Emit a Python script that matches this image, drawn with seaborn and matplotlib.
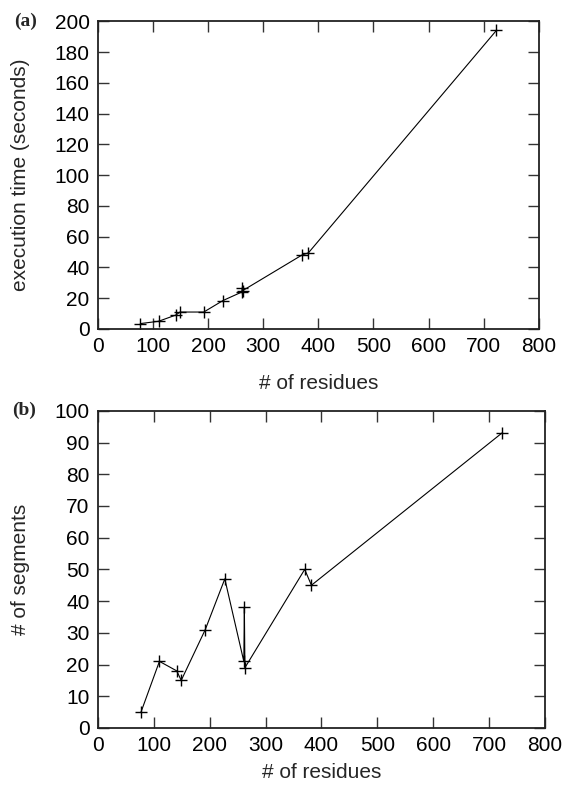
import numpy as np
import pandas as pd
import seaborn as sns
import matplotlib.pyplot as plt

# values
residues = [77, 110, 141, 149, 192, 227, 261, 262, 263, 370, 382, 723]
exec_time = [3.5, 5, 9, 11, 11, 18.5, 24, 26.5, 25, 48, 49.5, 194]
segments = [5, 21, 18, 15, 31, 47, 21, 38, 19, 50, 45, 93]

x_ticks = [0, 100, 200, 300, 400, 500, 600, 700, 800]
time_ticks = [0, 20, 40, 60, 80, 100, 120, 140, 160, 180, 200]
seg_ticks = [0, 10, 20, 30, 40, 50, 60, 70, 80, 90, 100]

df = pd.DataFrame({'residues': residues, 'time': exec_time, 'segments': segments})

sns.set_theme(style="ticks")
plt.rcParams['font.family'] = ['Liberation Sans', 'DejaVu Sans']
plt.rcParams['font.size'] = 15

fig = plt.figure(figsize=(5.63, 7.87), dpi=100)
ax1 = fig.add_axes([0.174, 0.582, 0.783, 0.391])
ax2 = fig.add_axes([0.174, 0.075, 0.794, 0.403])


def style(ax, yticks, ylabel, xlab_y, ylab_x, tag):
    ax.set_xlim(0, 800)
    ax.set_ylim(yticks[0], yticks[-1])
    ax.set_xticks(x_ticks)
    ax.set_yticks(yticks)
    ax.tick_params(direction='in', length=8, width=1, color='#333333',
                   top=True, right=True, labelsize=15, pad=6,
                   labelcolor='black')
    for s in ax.spines.values():
        s.set_linewidth(1.3)
        s.set_color('#222222')
    ax.set_xlabel('# of residues', fontsize=15)
    ax.set_ylabel(ylabel, fontsize=15)
    ax.xaxis.set_label_coords(0.5, xlab_y)
    ax.yaxis.set_label_coords(ylab_x, 0.5)
    ax.text(-0.165, 1.0, tag, transform=ax.transAxes, fontsize=14,
            fontweight='bold', family='Liberation Serif', va='center',
            ha='center')


sns.lineplot(data=df, x='residues', y='time', ax=ax1, estimator=None,
             sort=False, color='black', lw=0.8, marker='+', ms=9, mew=1,
             mec='black')
style(ax1, time_ticks, 'execution time (seconds)', -0.145, -0.155, '(a)')

sns.lineplot(data=df, x='residues', y='segments', ax=ax2, estimator=None,
             sort=False, color='black', lw=0.8, marker='+', ms=9, mew=1,
             mec='black')
style(ax2, seg_ticks, '# of segments', -0.11, -0.152, '(b)')

fig.savefig('out.png', dpi=100)
